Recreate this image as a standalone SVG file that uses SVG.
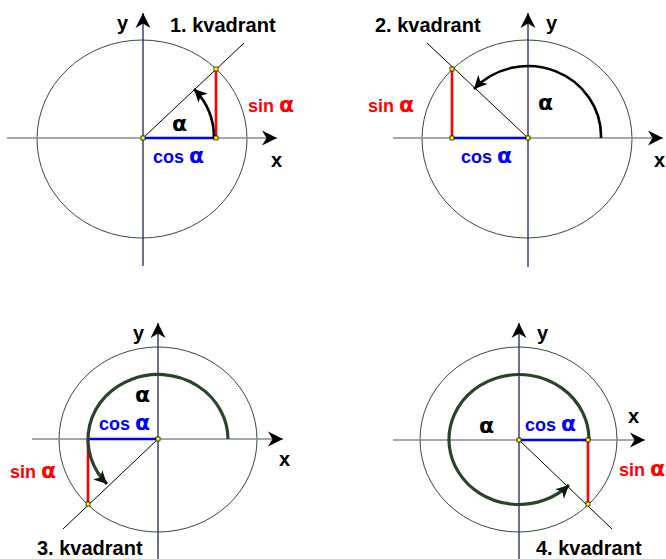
<svg xmlns="http://www.w3.org/2000/svg" width="666" height="559" viewBox="0 0 666 559">
<style>
.bg{fill:#ffffff}
.circ{fill:none;stroke:#2f4f2f;stroke-width:1}
.xax{stroke:#8a8a99;stroke-width:1.6;fill:none}
.yax{stroke:#22225a;stroke-width:1.3;fill:none}
.diag{stroke:#000;stroke-width:1;fill:none}
.sin{stroke:#ff0000;stroke-width:2.6;fill:none}
.cos{stroke:#0000ff;stroke-width:2.6;fill:none}
.arcb{stroke:#000;stroke-width:2.6;fill:none}
.arcg{stroke:#2a432a;stroke-width:3.2;fill:none}
.pt{fill:#ffff00;stroke:#000;stroke-width:0.7}
text{font-family:"Liberation Sans",Arial,sans-serif;font-weight:bold}
.t{font-size:20px;fill:#000}
.lab{font-size:20px;fill:#000}
.red{font-size:18px;fill:#ff0000}
.blue{font-size:18px;fill:#0000ff}
.al{font-family:"DejaVu Sans",sans-serif;font-size:22px}
</style>
<defs>
<marker id="axhead" viewBox="-16 -8 17 16" markerWidth="17" markerHeight="16" refX="0" refY="0" orient="auto" markerUnits="userSpaceOnUse">
<path d="M0,0 L-15,-7.5 L-10.5,0 L-15,7.5 Z" fill="#000"/>
</marker>
<marker id="archead" viewBox="-16 -8 17 16" markerWidth="17" markerHeight="16" refX="0" refY="0" orient="auto" markerUnits="userSpaceOnUse">
<path d="M0,0 L-13,-6.5 L-9.5,0 L-13,6.5 Z" fill="#000"/>
</marker>
<marker id="archeadg" viewBox="-16 -8 17 16" markerWidth="17" markerHeight="16" refX="0" refY="0" orient="auto" markerUnits="userSpaceOnUse">
<path d="M0,0 L-13,-6.5 L-9.5,0 L-13,6.5 Z" fill="#0f1a0f"/>
</marker>
</defs>
<rect class="bg" x="0" y="0" width="666" height="559"/>

<!-- Quadrant 1 -->
<g id="q1">
<ellipse class="circ" cx="142" cy="139" rx="105" ry="99"/>
<g id="q1-connectors">
<line class="xax" x1="7" y1="138" x2="277" y2="138" marker-end="url(#axhead)"/>
<line class="yax" x1="143" y1="266" x2="143" y2="13" marker-end="url(#axhead)"/>
<line class="diag" x1="143" y1="138" x2="244" y2="43"/>
<line class="cos" x1="143" y1="138" x2="216" y2="138"/>
<line class="sin" x1="216" y1="138" x2="216" y2="69"/>
<path class="arcb" d="M 214 138 A 71 70 0 0 0 194 89" marker-end="url(#archead)"/>
</g>
<rect class="pt" x="141" y="136" width="4" height="4"/>
<rect class="pt" x="214" y="136" width="4" height="4"/>
<rect class="pt" x="214" y="67" width="4" height="4"/>
<text class="lab" x="117" y="30">y</text>
<text class="t" x="170" y="32">1. kvadrant</text>
<text class="red" x="248" y="112">sin <tspan class="al">α</tspan></text>
<text class="blue" x="153" y="163">cos <tspan class="al">α</tspan></text>
<text class="lab al" x="172" y="131">α</text>
<text class="lab" x="271" y="167">x</text>
</g>

<!-- Quadrant 2 -->
<g id="q2">
<ellipse class="circ" cx="527" cy="139" rx="105" ry="99"/>
<g id="q2-connectors">
<line class="xax" x1="393" y1="138" x2="663" y2="138" marker-end="url(#axhead)"/>
<line class="yax" x1="528" y1="267" x2="528" y2="13" marker-end="url(#axhead)"/>
<line class="diag" x1="528" y1="138" x2="427" y2="43"/>
<line class="cos" x1="452" y1="138" x2="528" y2="138"/>
<line class="sin" x1="452" y1="138" x2="452" y2="69"/>
<path class="arcb" d="M 601 138 A 73 70 0 0 0 474 89" marker-end="url(#archead)"/>
</g>
<rect class="pt" x="526" y="136" width="4" height="4"/>
<rect class="pt" x="450" y="136" width="4" height="4"/>
<rect class="pt" x="450" y="67" width="4" height="4"/>
<text class="lab" x="546" y="30">y</text>
<text class="t" x="375" y="32">2. kvadrant</text>
<text class="red" x="368" y="112">sin <tspan class="al">α</tspan></text>
<text class="blue" x="461" y="163">cos <tspan class="al">α</tspan></text>
<text class="lab al" x="538" y="110">α</text>
<text class="lab" x="654" y="167">x</text>
</g>

<!-- Quadrant 3 -->
<g id="q3">
<ellipse class="circ" cx="158" cy="439.5" rx="99" ry="92.5"/>
<g id="q3-connectors">
<line class="xax" x1="32" y1="439" x2="283" y2="439" marker-end="url(#axhead)"/>
<line class="yax" x1="158" y1="559" x2="158" y2="323" marker-end="url(#axhead)"/>
<line class="diag" x1="158" y1="439" x2="63" y2="529"/>
<line class="cos" x1="88" y1="439" x2="158" y2="439"/>
<line class="sin" x1="88" y1="439" x2="88" y2="504"/>
<path class="arcg" d="M 228 439 A 70 65 0 1 0 107 484" marker-end="url(#archeadg)"/>
</g>
<rect class="pt" x="156" y="437" width="4" height="4"/>
<rect class="pt" x="86" y="502" width="4" height="4"/>
<text class="lab" x="133" y="340">y</text>
<text class="blue" x="99" y="430">cos <tspan class="al">α</tspan></text>
<text class="lab al" x="135" y="402">α</text>
<text class="red" x="10" y="478">sin <tspan class="al">α</tspan></text>
<text class="lab" x="279" y="466">x</text>
<text class="t" x="37" y="555">3. kvadrant</text>
</g>

<!-- Quadrant 4 -->
<g id="q4">
<ellipse class="circ" cx="518.5" cy="439.5" rx="98.5" ry="92.5"/>
<g id="q4-connectors">
<line class="xax" x1="393" y1="440" x2="645" y2="440" marker-end="url(#axhead)"/>
<line class="yax" x1="519" y1="559" x2="519" y2="323" marker-end="url(#axhead)"/>
<line class="diag" x1="519" y1="440" x2="612" y2="529"/>
<line class="cos" x1="519" y1="440" x2="588" y2="440"/>
<line class="sin" x1="588" y1="440" x2="588" y2="504"/>
<path class="arcg" d="M 589 440 A 70 65 0 1 0 569 485" marker-end="url(#archeadg)"/>
</g>
<rect class="pt" x="517" y="438" width="4" height="4"/>
<rect class="pt" x="586" y="438" width="4" height="4"/>
<rect class="pt" x="586" y="502" width="4" height="4"/>
<text class="lab" x="537" y="340">y</text>
<text class="lab" x="628" y="423">x</text>
<text class="blue" x="525" y="431">cos <tspan class="al">α</tspan></text>
<text class="lab al" x="479" y="433">α</text>
<text class="red" x="619" y="476">sin <tspan class="al">α</tspan></text>
<text class="t" x="536" y="555">4. kvadrant</text>
</g>
</svg>
